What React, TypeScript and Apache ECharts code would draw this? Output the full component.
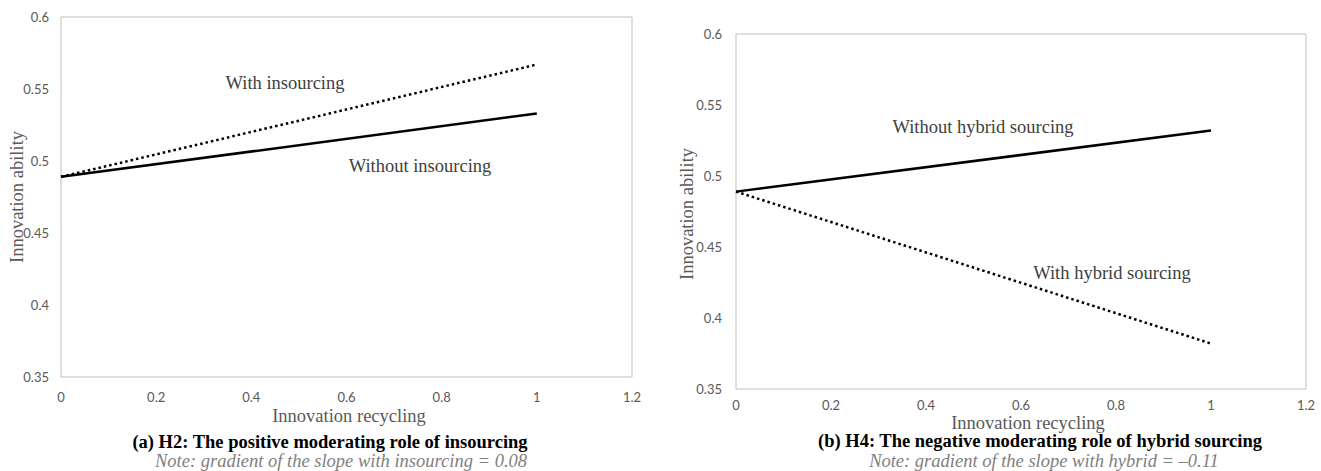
import React, { useEffect, useRef } from "react";
import * as echarts from "echarts";

// x values (innovation recycling)
const xValues = [0, 1];
// Panel (a): insourcing
const withInsourcing = [0.489, 0.567];
const withoutInsourcing = [0.489, 0.533];
// Panel (b): hybrid sourcing
const withoutHybrid = [0.489, 0.532];
const withHybrid = [0.489, 0.382];

const yTicks = { min: 0.35, max: 0.6, interval: 0.05 };
const xTicks = { min: 0, max: 1.2, interval: 0.2 };

const leftTexts = {
  yTitle: "Innovation ability",
  xTitle: "Innovation recycling",
  withLabel: "With insourcing",
  withoutLabel: "Without insourcing",
  caption: "(a) H2: The positive moderating role of insourcing",
  note: "Note: gradient of the slope with insourcing = 0.08",
};
const rightTexts = {
  yTitle: "Innovation ability",
  xTitle: "Innovation recycling",
  withLabel: "With hybrid sourcing",
  withoutLabel: "Without hybrid sourcing",
  caption: "(b) H4: The negative moderating role of hybrid sourcing",
  note: "Note: gradient of the slope with hybrid = \u20130.11",
};

const SERIF = "'Liberation Serif', 'Times New Roman', serif";
const SANS = "Lato, 'Open Sans', sans-serif";

export default function App() {
  const ref = useRef<HTMLDivElement>(null);
  useEffect(() => {
    document.body.style.margin = "0";
    const chart = echarts.init(ref.current!, null, { renderer: "svg" });
    const pair = (ys: number[]) => xValues.map((x, i) => [x, ys[i]]);
    const solid = { color: "#000", width: 2.5, type: "solid" as const };
    const dotted = { color: "#000", width: 2.5, type: [2.5, 3] as any };
    const mkX = (gi: number) => ({
      type: "value",
      gridIndex: gi,
      min: xTicks.min,
      max: xTicks.max,
      interval: xTicks.interval,
      axisLine: { show: false },
      axisTick: { show: false },
      splitLine: { show: false },
      axisLabel: {
        color: "#595959",
        fontFamily: SANS,
        fontSize: 13,
        margin: gi === 0 ? 13 : 9,
        formatter: (v: number) => String(Math.round(v * 10) / 10),
      },
    });
    const mkY = (gi: number) => ({
      type: "value",
      gridIndex: gi,
      min: yTicks.min,
      max: yTicks.max,
      interval: yTicks.interval,
      axisLine: { show: false },
      axisTick: { show: false },
      splitLine: { show: false },
      axisLabel: {
        color: "#595959",
        fontFamily: SANS,
        fontSize: 13,
        margin: gi === 0 ? 12 : 14,
        formatter: (v: number) => String(Math.round(v * 100) / 100),
      },
    });
    const txt = (x: number, y: number, text: string, opts: any = {}) => ({
      type: "text",
      x,
      y,
      rotation: opts.rotation || 0,
      style: {
        text,
        fill: opts.fill || "#404040",
        font: `${opts.style || "normal"} ${opts.weight || "normal"} ${opts.size || 18.5}px ${SERIF}`,
        align: "center",
        verticalAlign: "middle",
      },
    });
    chart.setOption({
      animation: false,
      backgroundColor: "#fff",
      grid: [
        { left: 61, top: 17, width: 571, height: 360, show: true, borderColor: "#bfbfbf", borderWidth: 1 },
        { left: 736, top: 34, width: 570, height: 355, show: true, borderColor: "#bfbfbf", borderWidth: 1 },
      ],
      xAxis: [mkX(0), mkX(1)],
      yAxis: [mkY(0), mkY(1)],
      series: [
        { type: "line", xAxisIndex: 0, yAxisIndex: 0, data: pair(withInsourcing), showSymbol: false, lineStyle: dotted },
        { type: "line", xAxisIndex: 0, yAxisIndex: 0, data: pair(withoutInsourcing), showSymbol: false, lineStyle: solid },
        { type: "line", xAxisIndex: 1, yAxisIndex: 1, data: pair(withoutHybrid), showSymbol: false, lineStyle: solid },
        { type: "line", xAxisIndex: 1, yAxisIndex: 1, data: pair(withHybrid), showSymbol: false, lineStyle: dotted },
      ],
      graphic: [
        // left panel
        txt(17, 197, leftTexts.yTitle, { rotation: Math.PI / 2, fill: "#595959" }),
        txt(349, 416, leftTexts.xTitle, { fill: "#595959" }),
        txt(285, 83, leftTexts.withLabel),
        txt(420, 166, leftTexts.withoutLabel),
        txt(330, 442, leftTexts.caption, { weight: "bold", fill: "#000" }),
        txt(341, 461, leftTexts.note, { style: "italic", fill: "#7f7f7f" }),
        // right panel
        txt(687, 214, rightTexts.yTitle, { rotation: Math.PI / 2, fill: "#595959" }),
        txt(1028, 423, rightTexts.xTitle, { fill: "#595959" }),
        txt(983, 127, rightTexts.withoutLabel),
        txt(1112, 273, rightTexts.withLabel),
        txt(1040, 441, rightTexts.caption, { weight: "bold", fill: "#000" }),
        txt(1044, 461, rightTexts.note, { style: "italic", fill: "#7f7f7f" }),
      ],
    });
    return () => chart.dispose();
  }, []);
  return <div ref={ref} style={{ width: 1321, height: 471 }} />;
}
